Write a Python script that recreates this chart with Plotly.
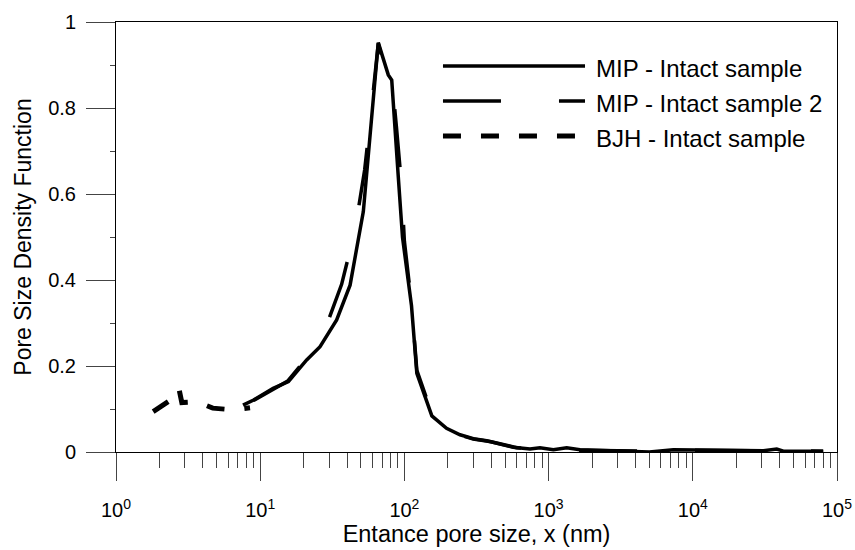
import plotly.graph_objects as go

# ---- data ----
mip_x = [7.6, 9.0, 12.3, 15.7, 21.0, 26.0, 33.9, 42.0, 51.9, 65.9, 77.3, 81.7, 90.7, 97.0,
         112, 122, 155, 196, 243, 309, 372, 460, 569, 743, 871, 1079, 1335, 1651, 2510,
         3670, 5000, 7330, 10600, 18100, 30900, 38200, 42500, 80400]
mip_y = [0.109, 0.121, 0.148, 0.164, 0.214, 0.245, 0.307, 0.388, 0.559, 0.952, 0.877, 0.865,
         0.640, 0.500, 0.340, 0.183, 0.084, 0.055, 0.040, 0.030, 0.026, 0.019, 0.011, 0.007,
         0.010, 0.005, 0.010, 0.005, 0.003, 0.002, 0.000, 0.005, 0.004, 0.003, 0.003, 0.007,
         0.002, 0.002]

mip2_x = [9.0, 12.0, 15.5, 20.0, 25.7, 30.0, 36.7, 45.4, 53.0, 60.0, 65.9, 75.0, 82.0, 88.0,
          95.0, 100, 112, 122, 155, 200, 250, 300, 400, 600, 1000, 1500, 3000, 6000,
          10000, 20000, 40000, 80000]
mip2_y = [0.120, 0.145, 0.165, 0.210, 0.262, 0.310, 0.390, 0.515, 0.656, 0.820, 0.950, 0.880,
          0.865, 0.757, 0.630, 0.490, 0.346, 0.190, 0.090, 0.055, 0.038, 0.030, 0.024, 0.010,
          0.005, 0.004, 0.003, 0.002, 0.004, 0.003, 0.004, 0.002]

bjh_x = [1.81, 2.29, 2.50, 2.73, 2.86, 3.63, 4.69, 6.48, 8.50]
bjh_y = [0.094, 0.115, 0.125, 0.148, 0.115, 0.117, 0.102, 0.098, 0.103]

names = ["MIP - Intact sample", "MIP - Intact sample 2", "BJH - Intact sample"]
dashes = ["solid", "58px,58px", "18px,20px"]
widths = [3.5, 3.5, 5]

x_major = [1, 10, 100, 1000, 10000, 100000]
x_labels = ["10<sup>0</sup>", "10<sup>1</sup>", "10<sup>2</sup>", "10<sup>3</sup>",
            "10<sup>4</sup>", "10<sup>5</sup>"]
x_minor = [m * 10 ** d for d in range(5) for m in range(2, 10)]
y_major = [0, 0.2, 0.4, 0.6, 0.8, 1]
y_minor = [0.1, 0.3, 0.5, 0.7, 0.9]

FONT = "Arial, Liberation Sans, sans-serif"

fig = go.Figure()
for xs, ys, nm, ds, w in zip([mip_x, mip2_x, bjh_x], [mip_y, mip2_y, bjh_y], names, dashes, widths):
    fig.add_trace(go.Scatter(x=xs, y=ys, mode="lines", name=nm,
                             line=dict(color="black", width=w, dash=ds),
                             showlegend=False))

# custom legend (long sample lines as in reference)
leg_rows = [0.8977, 0.8163, 0.7349]
leg_ends = [0.6505, 0.6505, 0.6380]
for i, nm in enumerate(names):
    fig.add_shape(type="line", xref="paper", yref="paper",
                  x0=0.4535, x1=leg_ends[i], y0=leg_rows[i], y1=leg_rows[i],
                  line=dict(color="black", width=widths[i], dash=dashes[i]))
    fig.add_annotation(xref="paper", yref="paper", x=0.663, y=leg_rows[i] - 0.006,
                       text=nm, showarrow=False, xanchor="left", yanchor="middle",
                       font=dict(family=FONT, size=24, color="black"))

fig.update_layout(
    width=855, height=550,
    margin=dict(l=116, r=18, t=22, b=98),
    paper_bgcolor="white", plot_bgcolor="white",
    font=dict(family=FONT, color="black"),
    showlegend=False,
)
fig.update_xaxes(
    type="log", range=[0, 5], automargin=False,
    tickvals=x_major, ticktext=x_labels,
    ticks="outside", ticklen=28, tickwidth=1, tickcolor="#444",
    minor=dict(tickvals=x_minor, ticks="outside", ticklen=15, tickwidth=1, tickcolor="#444"),
    showline=True, linecolor="black", linewidth=1, mirror=True,
    showgrid=False, zeroline=False,
    tickfont=dict(family=FONT, size=20, color="black"),
    ticklabelstandoff=12,
    title=dict(text="Entance pore size, x (nm)", font=dict(family=FONT, size=23.5, color="black"),
               standoff=5),
)
fig.update_yaxes(
    range=[0, 1], automargin=False,
    tickvals=y_major,
    ticks="outside", ticklen=29, tickwidth=1, tickcolor="#444",
    minor=dict(tickvals=y_minor, ticks="outside", ticklen=5, tickwidth=1, tickcolor="#444"),
    showline=True, linecolor="black", linewidth=1, mirror=True,
    showgrid=False, zeroline=False,
    tickfont=dict(family=FONT, size=20, color="black"),
    ticklabelstandoff=6,
    title=dict(text="Pore Size Density Function", font=dict(family=FONT, size=23, color="black"),
               standoff=10),
)

fig.write_html("out.html")
